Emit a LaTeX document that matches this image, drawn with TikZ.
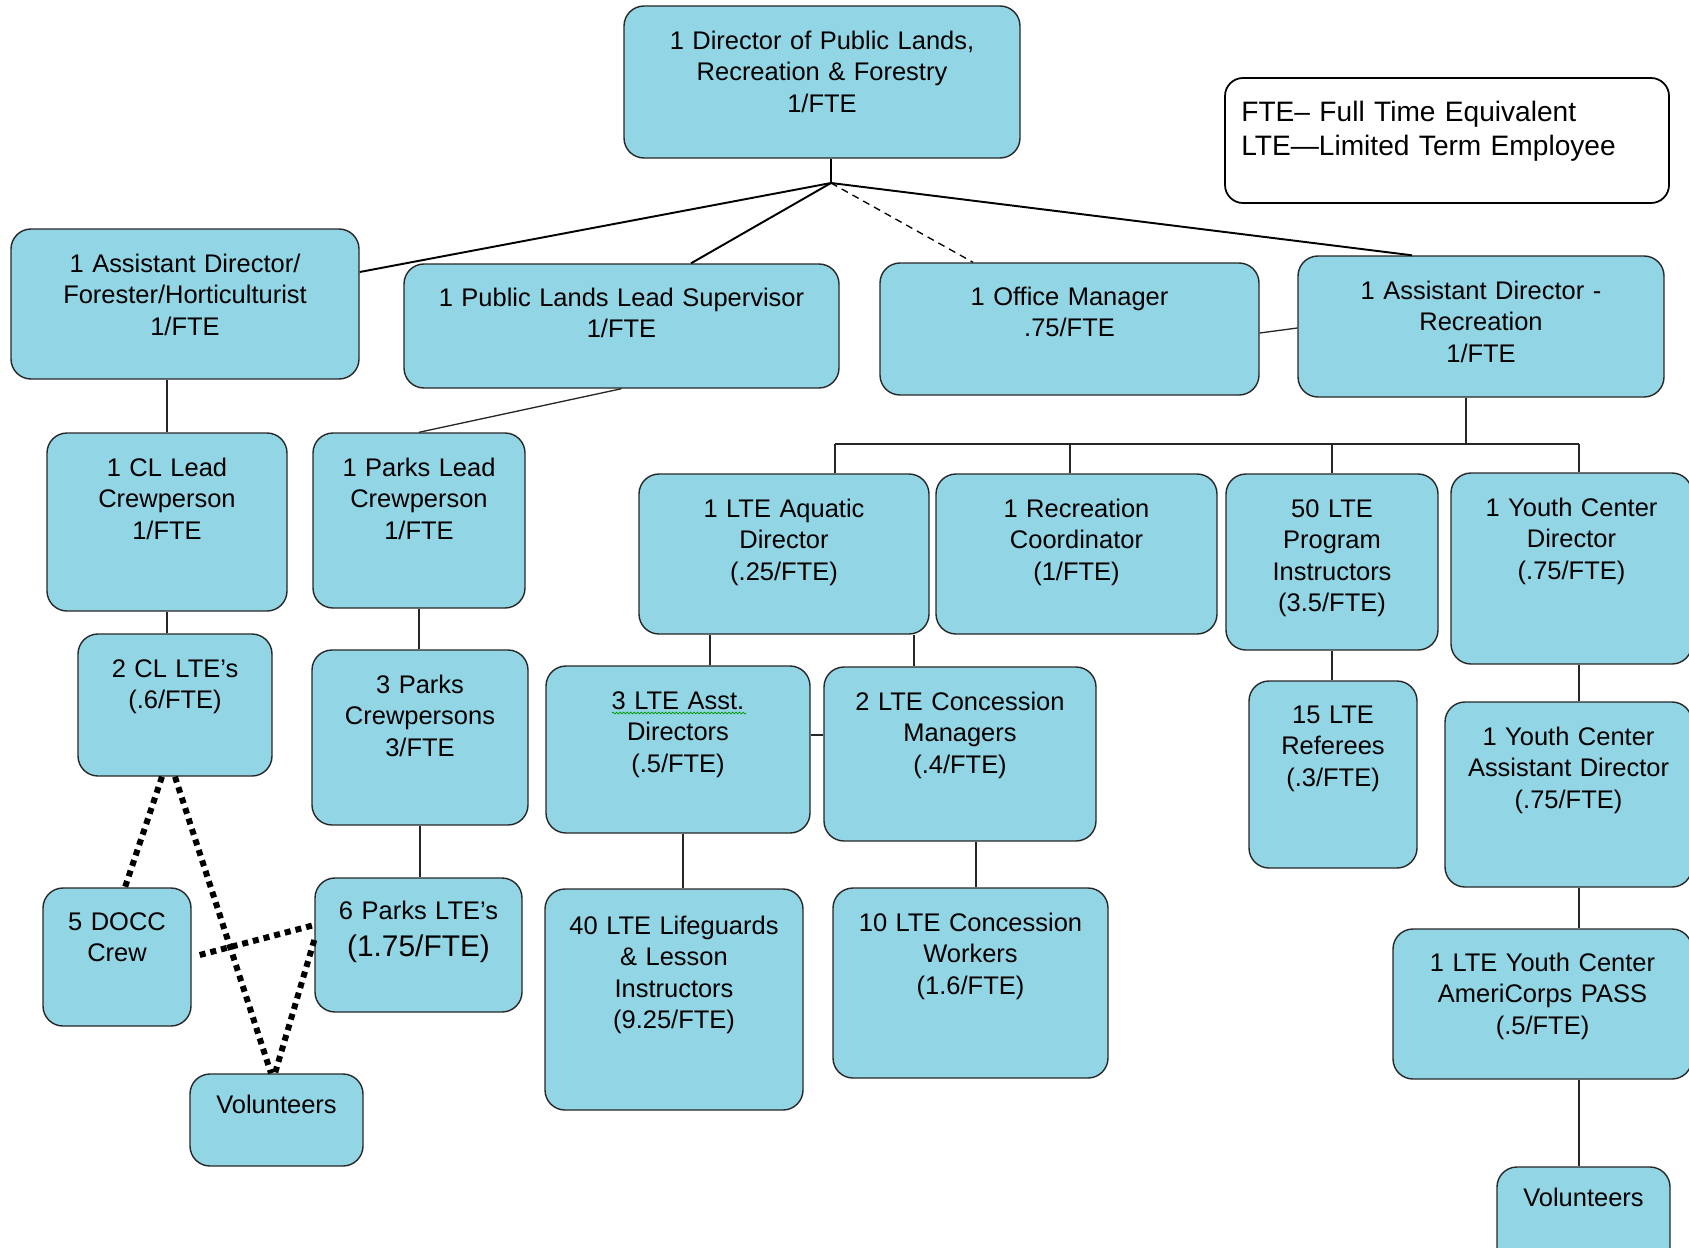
\documentclass[tikz,border=0pt]{standalone}
\usepackage{fontspec}
\setmainfont{Liberation Sans}
\usetikzlibrary{fit,calc,decorations.pathmorphing}
\definecolor{boxblue}{RGB}{146,213,228}
\definecolor{boxline}{RGB}{40,40,40}
\tikzset{
  staff/.style={draw=boxline, line width=0.8pt, fill=boxblue, rounded corners=0.4cm, inner sep=0pt},
  stafftext/.style={anchor=base, align=center, text width=9cm, inner sep=0pt, font=\fontsize{14.5}{17.9}\selectfont},
  link/.style={draw=black!85, line width=0.75pt},
  toplink/.style={draw=black, line width=1.1pt},
  officelink/.style={draw=black, line width=0.75pt, dash pattern=on 4pt off 3pt},
  dotlink/.style={draw=black, line width=0.12cm, dash pattern=on 0.12cm off 0.1cm},
}
\begin{document}
\begin{tikzpicture}[x=0.02cm,y=-0.02cm]
\useasboundingbox (0,0) rectangle (1689,1247);
% boxes
\node[staff, fit={(624,6) (1020,158)}] (dir) {};
\node[staff, fit={(11,229) (359,379)}] (for) {};
\node[staff, fit={(404,264) (839,388)}] (pls) {};
\node[staff, fit={(880,263) (1259,395)}] (off) {};
\node[staff, fit={(1298,256) (1664,397)}] (adr) {};
\node[staff, fit={(47,433) (287,611)}] (cll) {};
\node[staff, fit={(313,433) (525,608)}] (pkl) {};
\node[staff, fit={(78,634) (272,776)}] (cll2) {};
\node[staff, fit={(312,650) (528,825)}] (pk3) {};
\node[staff, fit={(43,888) (191,1026)}] (docc) {};
\node[staff, fit={(315,878) (522,1012)}] (pk6) {};
\node[staff, fit={(190,1074) (363,1166)}] (voll) {};
\node[staff, fit={(639,474) (929,634)}] (aqd) {};
\node[staff, fit={(936,474) (1217,634)}] (rcc) {};
\node[staff, fit={(1226,474) (1438,650)}] (p50) {};
\node[staff, fit={(1451,473) (1692,664)}] (ycd) {};
\node[staff, fit={(546,666) (810,833)}] (asd) {};
\node[staff, fit={(824,667) (1096,841)}] (ccm) {};
\node[staff, fit={(1249,681) (1417,868)}] (ref) {};
\node[staff, fit={(1445,702) (1692,887)}] (yca) {};
\node[staff, fit={(545,889) (803,1110)}] (lfg) {};
\node[staff, fit={(833,888) (1108,1078)}] (ccw) {};
\node[staff, fit={(1393,929) (1692,1079)}] (amc) {};
\node[staff, fit={(1497,1167) (1670,1280)}] (volr) {};
\node[draw=black, line width=1pt, fill=white, rounded corners=0.36cm, inner sep=0pt, fit={(1225,78) (1669,203)}] (key) {};

% texts
\node[stafftext] (dir-t) at ($(dir.north)+(0,44)$) {1 Director of Public Lands,\\Recreation \& Forestry\\1/FTE};
\node[stafftext] (for-t) at ($(for.north)+(0,44)$) {1 Assistant Director/\\Forester/Horticulturist\\1/FTE};
\node[stafftext] (pls-t) at ($(pls.north)+(0,43)$) {1 Public Lands Lead Supervisor\\1/FTE};
\node[stafftext] (off-t) at ($(off.north)+(0,43)$) {1 Office Manager\\.75/FTE};
\node[stafftext] (adr-t) at ($(adr.north)+(0,44)$) {1 Assistant Director -\\Recreation\\1/FTE};
\node[stafftext] (cll-t) at ($(cll.north)+(0,44)$) {1 CL Lead\\Crewperson\\1/FTE};
\node[stafftext] (pkl-t) at ($(pkl.north)+(0,44)$) {1 Parks Lead\\Crewperson\\1/FTE};
\node[stafftext] (cll2-t) at ($(cll2.north)+(0,44)$) {2 CL LTE’s\\(.6/FTE)};
\node[stafftext] (pk3-t) at ($(pk3.north)+(0,44)$) {3 Parks\\Crewpersons\\3/FTE};
\node[stafftext] (docc-t) at ($(docc.north)+(0,43)$) {5 DOCC\\Crew};
\node[stafftext] (pk6-t) at ($(pk6.north)+(0,42)$) {6 Parks LTE’s\\[3.5pt]{\fontsize{17}{20}\selectfont(1.75/FTE)}};
\node[stafftext] (voll-t) at ($(voll.north)+(0,40)$) {Volunteers};
\node[stafftext] (aqd-t) at ($(aqd.north)+(0,44)$) {1 LTE Aquatic\\Director\\(.25/FTE)};
\node[stafftext] (rcc-t) at ($(rcc.north)+(0,44)$) {1 Recreation\\Coordinator\\(1/FTE)};
\node[stafftext] (p50-t) at ($(p50.north)+(0,44)$) {50 LTE\\Program\\Instructors\\(3.5/FTE)};
\node[stafftext] (ycd-t) at ($(ycd.north)+(0,44)$) {1 Youth Center\\Director\\(.75/FTE)};
\node[stafftext] (asd-t) at ($(asd.north)+(0,44)$) {3 LTE Asst.\\Directors\\(.5/FTE)};
\node[stafftext] (ccm-t) at ($(ccm.north)+(0,44)$) {2 LTE Concession\\Managers\\(.4/FTE)};
\node[stafftext] (ref-t) at ($(ref.north)+(0,43)$) {15 LTE\\Referees\\(.3/FTE)};
\node[stafftext] (yca-t) at ($(yca.north)+(0,44)$) {1 Youth Center\\Assistant Director\\(.75/FTE)};
\node[stafftext] (lfg-t) at ($(lfg.north)+(0,46)$) {40 LTE Lifeguards\\\& Lesson\\Instructors\\(9.25/FTE)};
\node[stafftext] (ccw-t) at ($(ccw.north)+(0,44)$) {10 LTE Concession\\Workers\\(1.6/FTE)};
\node[stafftext] (amc-t) at ($(amc.north)+(0,43)$) {1 LTE Youth Center\\AmeriCorps PASS\\(.5/FTE)};
\node[stafftext] (volr-t) at ($(volr.north)+(0,40)$) {Volunteers};
\node[anchor=base west, align=left, text width=8.5cm, inner sep=0pt, font=\fontsize{16}{19.6}\selectfont] (key-t) at (1241,121) {FTE– Full Time Equivalent\\LTE—Limited Term Employee};
% spell-check squiggle
\draw[green!60!black, line width=0.4pt, decorate, decoration={snake, amplitude=0.5pt, segment length=2pt}] (612,713) -- (746,713);

% top level
\coordinate (hub) at (831,183);
\draw[toplink] (dir.south -| hub) -- (hub);
\draw[toplink] (hub) -- (for.east |- 0,272);
\draw[toplink] (hub) -- (pls.north -| 691,0);
\draw[officelink] (hub) -- (off.north -| 973,0);
\draw[toplink] (hub) -- (adr.north -| 1412,0);
\draw[link] (off.east |- 0,333) -- (adr.west |- 0,328);

% public lands side
\draw[link] (cll.north |- for.south) -- (cll.north);
\draw[link] (pls.south) -- (pkl.north);
\draw[link] (cll.south -| 167,0) -- (cll2.north -| 167,0);
\draw[link] (pkl.south) -- (pkl.south |- pk3.north);
\draw[link] (pk3.south) -- (pk3.south |- pk6.north);
\draw[dotlink] (cll2.south -| 162,0) -- (docc.north -| 125,0);
\draw[dotlink] (cll2.south -| 175,0) -- (voll.north -| 271,0);
\draw[dotlink] (docc.east |- 0,955) ++(8,0) -- (pk6.west |- 0,925);
\draw[dotlink] (pk6.west |- 0,940) -- (voll.north -| 275,0);

% recreation side
\coordinate (busL) at (835,444);
\coordinate (busR) at (1579,444);
\draw[link] (adr.south -| 1466,0) -- (busL -| 1466,0);
\draw[link] (busL) -- (busR);
\draw[link] (busL) -- (aqd.north -| busL);
\draw[link] (busL -| 1070,0) -- (rcc.north -| 1070,0);
\draw[link] (busL -| p50.north) -- (p50.north);
\draw[link] (busR) -- (ycd.north -| busR);
\draw[link] (aqd.south -| 710,0) -- (asd.north -| 710,0);
\draw[link] (aqd.south -| 914,0) -- (ccm.north -| 914,0);
\draw[link] (asd.east |- 0,735) -- (ccm.west |- 0,735);
\draw[link] (asd.south -| 683,0) -- (lfg.north -| 683,0);
\draw[link] (ccm.south -| 976,0) -- (ccw.north -| 976,0);
\draw[link] (p50.south) -- (p50.south |- ref.north);
\draw[link] (ycd.south -| busR) -- (yca.north -| busR);
\draw[link] (yca.south -| busR) -- (amc.north -| busR);
\draw[link] (amc.south -| busR) -- (volr.north -| busR);
\end{tikzpicture}
\end{document}
